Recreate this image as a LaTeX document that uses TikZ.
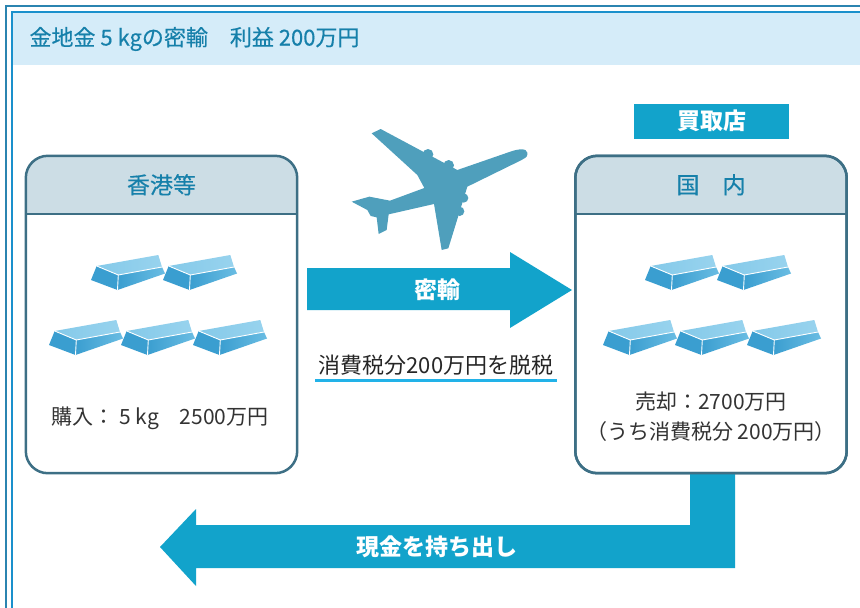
\documentclass[tikz,border=0pt]{standalone}
\usepackage{fontspec}
\setmainfont{Noto Sans CJK JP}
\newfontfamily\jpmed{Noto Sans CJK JP}[FakeBold=0.4]
\usetikzlibrary{calc, positioning}

\definecolor{frameOuter}{HTML}{2B84B0}
\definecolor{frameInner}{HTML}{1A90CC}
\definecolor{titleBand}{HTML}{D5ECF9}
\definecolor{titleBlue}{HTML}{1680AA}
\definecolor{boxLine}{HTML}{3D6F85}
\definecolor{hdrFill}{HTML}{CCDDE5}
\definecolor{flowBlue}{HTML}{12A3CB}
\definecolor{planeBlue}{HTML}{4F9FBC}
\definecolor{textGray}{HTML}{333333}
\definecolor{lineCyan}{HTML}{22B2E8}
\definecolor{barDark}{HTML}{3A9ED0}
\definecolor{barMid}{HTML}{56B3DE}
\definecolor{barLight}{HTML}{98D3EE}

\tikzset{
  infoBox/.style={fill=white, minimum width=271pt, minimum height=317pt, inner sep=0pt},
  boxEdge/.style={draw=boxLine, line width=2.5pt, rounded corners=22pt},
  hdrText/.style={text=titleBlue, font=\jpmed\fontsize{23}{26}\selectfont},
  bodyText/.style={text=textGray, font=\fontsize{21}{30}\selectfont, align=center},
  flowText/.style={text=white, font=\fontsize{23}{26}\selectfont\bfseries},
  goldbar/.pic={
    % end face, top face, long face, then the white edges
    \fill[barDark] (0,0) -- (5.7,-14) -- (27.3,-5) -- (26.5,10) -- cycle;
    \shade[left color=barLight!70!barMid, right color=barLight] (5.7,-14) -- (67.3,-25) -- (71,-13) -- (27.3,-5) -- cycle;
    \shade[left color=barDark, right color=barMid!70!barLight] (26.5,10) -- (27.3,-5) -- (71,-13) -- (74,-6.5) -- cycle;
    \draw[white, line width=0.9pt] (5.7,-14) -- (27.3,-5) -- (71,-13) (27.3,-5) -- (26.5,10);
  }
}

\begin{document}
\begin{tikzpicture}[x=1pt, y=-1pt, font=\fontsize{21}{24}\selectfont]
\useasboundingbox (0,0) rectangle (860,608);

% --- 1. FRAME AND TITLE ---
\fill[titleBand] (12,12) rectangle (860,65);
\draw[frameOuter, line width=2pt] (6,608) -- (6,6) -- (860,6);
\draw[frameInner, line width=2pt] (12,608) -- (12,12) -- (860,12);
\node[anchor=west, text=titleBlue, font=\jpmed\fontsize{22}{24}\selectfont] (title) at (26,39) {金地金 5 kgの密輸　利益 200万円};

% --- 2. THE TWO PLACES ---
\node[infoBox] (hongkong) at (161.5,314.5) {};
\node[infoBox] (domestic) at (711,314.5) {};

\foreach \b in {hongkong, domestic} {
    \begin{scope}
        \clip[rounded corners=22pt] (\b.north west) rectangle (\b.south east);
        \fill[hdrFill] (\b.north west) rectangle ($(\b.north east)+(0,58)$);
    \end{scope}
    \draw[boxLine, line width=2pt] ($(\b.north west)+(0,58)$) -- ($(\b.north east)+(0,58)$);
    \draw[boxEdge] (\b.north west) rectangle (\b.south east);
}

\node[hdrText] (hkTitle) at ($(hongkong.north)+(0,29)$) {香港等};
\node[hdrText] (dmTitle) at ($(domestic.north)+(0,29)$) {国　内};

\node[fill=flowBlue, minimum width=155pt, minimum height=35pt, inner sep=0pt,
      flowText] (buyer) at (711.5,121) {買取店};

% gold bars, two rows in each box
\foreach \x/\y in {91/280, 163/280, 49/345, 121/345, 193/345} {
    \pic at (\x,\y) {goldbar};
    \pic at (\x+554,\y) {goldbar};
}

\node[bodyText] (buyIn) at (160,418) {購入： 5 kg　2500万円};
\node[bodyText] (sellOut) at (711,417) {売却：2700万円\\（うち消費税分 200万円）};

% --- 3. AIRPLANE ---
\begin{scope}[shift={(330,110)}, scale=1/3]
    \fill[planeBlue] (592,128) .. controls (590,114) and (565,116) .. (538,126)
        -- (382,180) -- (152,57) -- (125,70) -- (262,195) -- (283,234)
        -- (180,272) -- (118,260) -- (65,275) -- (112,300) -- (122,318)
        -- (140,322) -- (146,372) -- (170,360) -- (176,313) -- (312,282)
        -- (335,420) -- (355,415) -- (412,230) -- (575,150)
        .. controls (592,140) .. (592,128) -- cycle;
    \foreach \ex/\ey/\er in {294/133/16, 356/166/16, 401/264/14, 389/304/14}
        \fill[planeBlue] (\ex,\ey) circle (\er);
\end{scope}

% --- 4. SMUGGLING ARROW ---
\fill[flowBlue] (307,268) -- (510,268) -- (510,252) -- (572,290) -- (510,328)
    -- (510,310) -- (307,310) -- cycle;
\node[flowText] (smuggle) at (437,290) {密輸};

\node[bodyText, text=black!85, font=\fontsize{22}{24}\selectfont] (taxNote) at (436,365) {消費税分200万円を脱税};
\draw[lineCyan, line width=2.2pt] (315,380.5) -- (557,380.5);

% --- 5. CASH RETURN ARROW ---
\fill[flowBlue] ($(domestic.south)+(-21,0)$) -- (690,525) -- (196,525) -- (196,509)
    -- (160,547) -- (196,586) -- (196,568) -- (735,568) -- ($(domestic.south)+(24,0)$) -- cycle;
\draw[boxEdge] (domestic.north west) rectangle (domestic.south east);
\node[flowText] (cashOut) at (437,547) {現金を持ち出し};

\end{tikzpicture}
\end{document}
